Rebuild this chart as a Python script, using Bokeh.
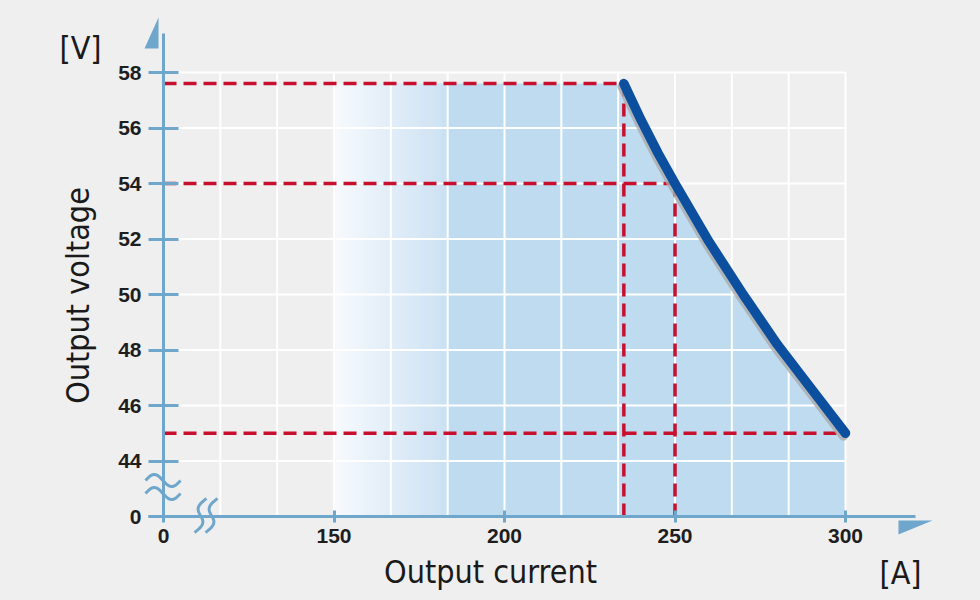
import numpy as np
from bokeh.plotting import figure
from bokeh.models import LinearAxis, FixedTicker, Range1d
from bokeh.core.properties import value
from bokeh.embed import file_html
from bokeh.resources import INLINE

# ---------------- data ----------------
current_ticks = [0, 150, 200, 250, 300]            # A (axis broken between 0 and 150)
voltage_ticks = [0, 44, 46, 48, 50, 52, 54, 56, 58]  # V (axis broken between 0 and 44)
current_A = [235, 240, 245, 250, 260, 270, 280, 290, 300]
voltage_V = [57.6, 56.3, 55.1, 54.0, 51.9, 50.0, 48.2, 46.6, 45.0]
ref_current = [235, 250, 300]
ref_voltage = [57.6, 54.0, 45.0]
fill_start_A = 150
gradient_end_A = 183.3
x_label = "Output current"
y_label = "Output voltage"
x_unit = "[A]"
y_unit = "[V]"

# ---------------- broken-axis transforms ----------------
def tx(a):
    return 0.0 if a == 0 else a - 100.0

def ty(v):
    return 0.0 if v == 0 else v - 42.0

# pixel <-> data helpers for decorations (page pixel coordinates)
PX0, PXS, PY0, PYS = 163.0, 3.41, 516.0, 27.75
def px(X):
    return (X - PX0) / PXS
def py(Y):
    return (PY0 - Y) / PYS

W, H = 980, 600
BG = "#efefef"
AXC = "#6fa6cc"
RED = "#c8102e"
BLUE = "#0b4f9e"
FILL = "#bedbf0"
FONT = "DejaVu Sans Condensed"

p = figure(width=W, height=H, output_backend="svg", toolbar_location=None,
           x_range=Range1d(px(0), px(W)), y_range=Range1d(py(H), py(0)),
           x_axis_type=None, y_axis_type=None,
           background_fill_color=BG, border_fill_color=BG,
           min_border=0, min_border_left=0, min_border_right=0,
           min_border_top=0, min_border_bottom=0, outline_line_color=None)
p.xgrid.visible = False
p.ygrid.visible = False

xt_max = tx(current_ticks[-1])
yt_max = ty(voltage_ticks[-1])

# ---------------- fill: gradient strips + solid area ----------------
n = 40
edges = np.linspace(tx(fill_start_A), tx(gradient_end_A), n + 1)
c0 = np.array([248, 251, 254]); c1 = np.array([203, 225, 243])
cols = []
for i in range(n):
    f = (i + 0.5) / n
    c = (c0 + (c1 - c0) * f).astype(int)
    cols.append("#%02x%02x%02x" % tuple(c))
top = ty(ref_voltage[0])
p.quad(left=edges[:-1], right=edges[1:] + 0.05, bottom=0, top=top,
       fill_color=cols, line_color=None)

cx = [tx(a) for a in current_A]
cy = [ty(v) for v in voltage_V]
poly_x = [tx(gradient_end_A)] + cx + [cx[-1], tx(gradient_end_A)]
poly_y = [top] + cy + [0, 0]
p.patch(poly_x, poly_y, fill_color=FILL, line_color=None)

# ---------------- grid ----------------
vx = [k * 50.0 / 3.0 for k in range(1, 13)]
p.segment(x0=vx, y0=0, x1=vx, y1=yt_max, line_color="white", line_width=2)
hy = [ty(v) for v in voltage_ticks[1:]]
p.segment(x0=0, y0=hy, x1=xt_max, y1=hy, line_color="white", line_width=2)

# ---------------- dashed reference lines ----------------
rx = [tx(a) for a in ref_current]
ry = [ty(v) for v in ref_voltage]
p.segment(x0=0, y0=ry, x1=rx, y1=ry, line_color=RED, line_width=3.5, line_dash="13 7")
p.segment(x0=rx[:2], y0=ry[:2], x1=rx[:2], y1=0, line_color=RED, line_width=3.5,
          line_dash="13 7")

# ---------------- curve with shadow ----------------
p.line([x - 2 / PXS for x in cx], [y - 3 / PYS for y in cy], line_color="#aaaaaa",
       line_width=9, line_alpha=0.8, line_cap="round", line_join="round")
p.line(cx, cy, line_color=BLUE, line_width=9.5, line_cap="round", line_join="round")

# ---------------- axes ----------------
p.segment(x0=[0, px(148)], y0=[py(521), 0], x1=[0, px(915)], y1=[py(33), 0],
          line_color=AXC, line_width=3)
# arrow heads
p.patch([px(144), px(158), px(158)], [py(48), py(17), py(48)], fill_color=AXC, line_color=None)
p.patch([px(898), px(932), px(898)], [py(520), py(520), py(534)], fill_color=AXC, line_color=None)

# break marks
t = np.linspace(0, 2 * np.pi, 50)
for yc in (480, 493):
    X = 145 + 35 * t / (2 * np.pi)
    Y = yc - 6 * np.sin(t)
    p.line([px(v) for v in X], [py(v) for v in Y], line_color=AXC, line_width=3)
s = np.linspace(0, 1, 50)
for xc in (200, 211):
    Y = 532 - 34 * s
    X = xc + 12 * (s - 0.5) + 5 * np.sin(2 * np.pi * s)
    p.line([px(v) for v in X], [py(v) for v in Y], line_color=AXC, line_width=3)

xaxis = LinearAxis(fixed_location=0,
                   ticker=FixedTicker(ticks=[tx(a) for a in current_ticks]),
                   major_label_overrides={tx(a): str(a) for a in current_ticks})
yaxis = LinearAxis(fixed_location=0,
                   ticker=FixedTicker(ticks=[ty(v) for v in voltage_ticks]),
                   major_label_overrides={ty(v): str(v) for v in voltage_ticks})
for ax in (xaxis, yaxis):
    ax.axis_line_color = None
    ax.major_tick_line_color = AXC
    ax.major_tick_line_width = 3
    ax.minor_tick_line_color = None
    ax.major_label_text_font = "Liberation Sans"
    ax.major_label_text_font_style = "bold"
    ax.major_label_text_font_size = "21px"
    ax.major_label_text_color = "#1e1e1e"
xaxis.major_tick_in = 6
xaxis.major_tick_out = 6
xaxis.major_label_standoff = 6
yaxis.major_tick_in = 15
yaxis.major_tick_out = 15
yaxis.major_label_standoff = 7
p.add_layout(xaxis, "below")
p.add_layout(yaxis, "left")

# ---------------- texts ----------------
common = dict(text_font=value(FONT), text_font_size="32px", text_color="#1a1a1a",
              text_baseline="alphabetic", text_align="center")
p.text(x=[px(490)], y=[py(571)], text=[x_label], **common)
p.text(x=[px(900)], y=[py(572)], text=[x_unit], **common)
p.text(x=[px(80)], y=[py(47)], text=[y_unit], **common)
p.text(x=[px(77)], y=[py(295)], text=[y_label], angle=np.pi / 2, **common)

html = file_html(p, INLINE)
html = html.replace("</head>", "<style>html,body{background:#efefef;}</style></head>", 1)
open("out.html", "w").write(html)
